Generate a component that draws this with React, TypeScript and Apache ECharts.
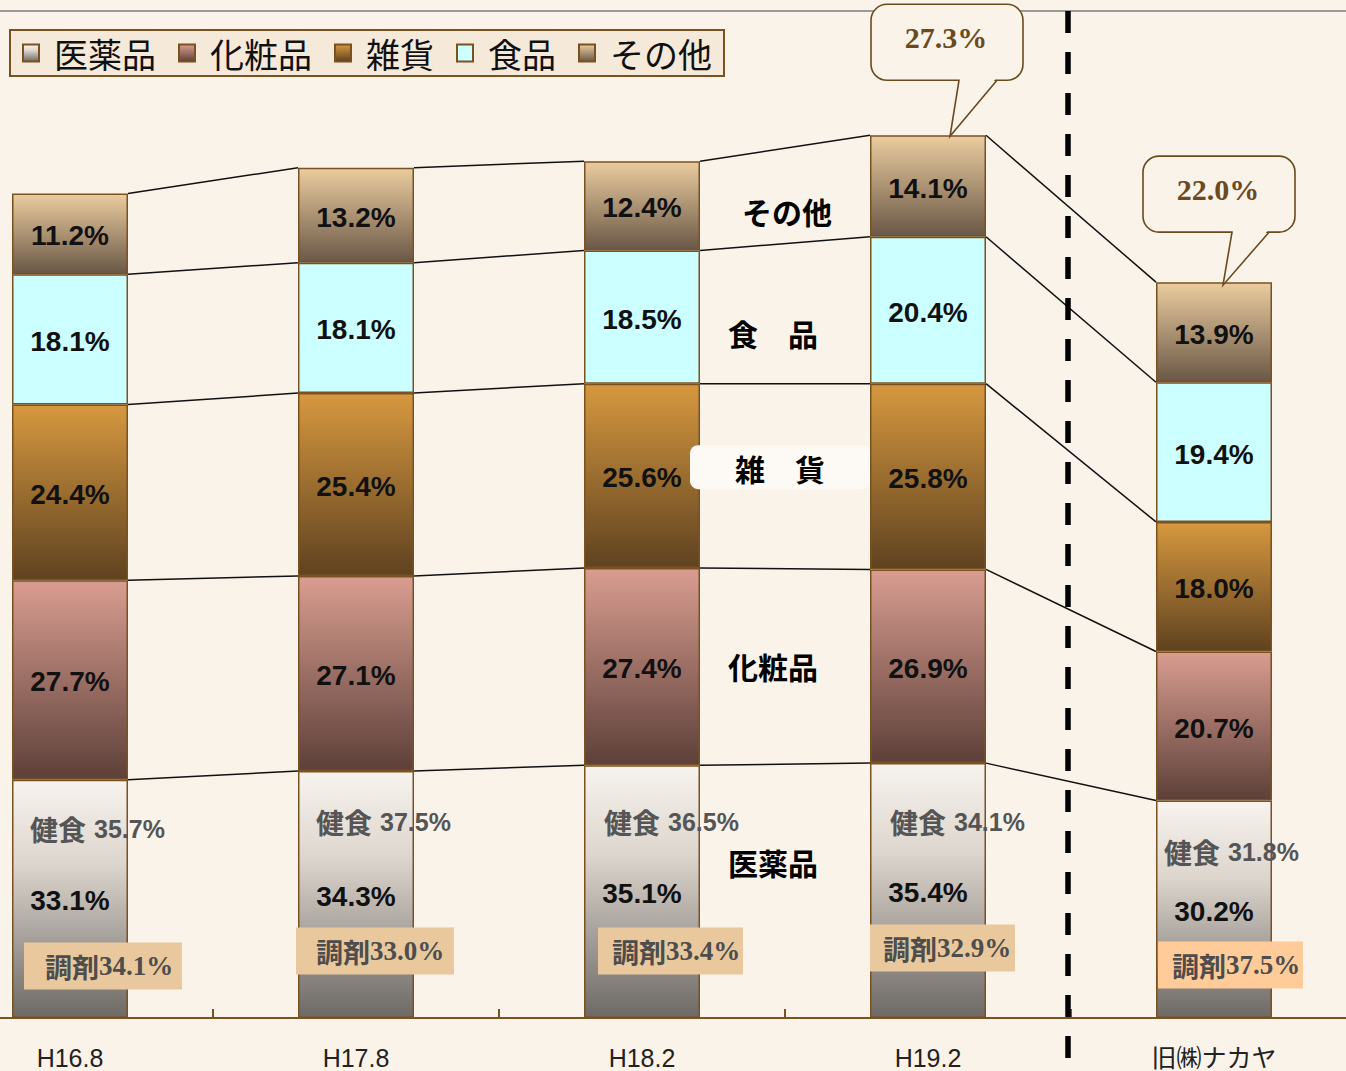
import React, { useEffect, useRef } from 'react';
import * as echarts from 'echarts';

// ---------- data ----------
const categories = ['H16.8', 'H17.8', 'H18.2', 'H19.2', '旧㈱ナカヤ'];
const seriesNames = ['医薬品', '化粧品', '雑貨', '食品', 'その他'];
const iyakuhin = [33.1, 34.3, 35.1, 35.4, 30.2];
const keshohin = [27.7, 27.1, 27.4, 26.9, 20.7];
const zakka = [24.4, 25.4, 25.6, 25.8, 18.0];
const shokuhin = [18.1, 18.1, 18.5, 20.4, 19.4];
const sonota = [11.2, 13.2, 12.4, 14.1, 13.9];
const kenshoku = [35.7, 37.5, 36.5, 34.1, 31.8];
const chozai = [34.1, 33.0, 33.4, 32.9, 37.5];
const callouts: (number | null)[] = [null, null, null, 27.3, 22.0];
const tagTexts = ['医薬品', '化粧品', '雑　貨', '食　品', 'その他'];

const seriesData = [iyakuhin, keshohin, zakka, shokuhin, sonota];

// ---------- styles / layout ----------
const BG = '#f9f3ea';
const BROWN = '#7a5121';
const CALLOUT_BROWN = '#6b4a1e';
const BAR_W = 116;
const CJK = "'Noto Sans CJK JP', sans-serif";
const SANS = "'Liberation Sans', Arial, 'Noto Sans CJK JP', sans-serif";
const SERIF = "'Liberation Serif', 'DejaVu Serif', serif";

// per-category annotation offsets (pixels, relative to bar left edge / baseline)
const ANNOT_LAYOUT = [
  { kenDx: 18, kenDy: -189, boxDx: 12, boxDy: -52, boxW: 158, pad: 21, boxFill: '#e8c89c' },
  { kenDx: 18, kenDy: -196, boxDx: -2, boxDy: -67, boxW: 158, pad: 20, boxFill: '#e8c89c' },
  { kenDx: 20, kenDy: -196, boxDx: 14, boxDy: -67, boxW: 145, pad: 14, boxFill: '#e8c89c' },
  { kenDx: 20, kenDy: -196, boxDx: 0, boxDy: -70, boxW: 145, pad: 13, boxFill: '#e8c89c' },
  { kenDx: 8, kenDy: -166, boxDx: 2, boxDy: -53, boxW: 145, pad: 14, boxFill: '#ffcc99' },
];
const CALLOUT_LAYOUT: Record<number, any> = {
  3: { boxDx: -57, boxDy: -131, tipDx: 22, tipDy: 1, base: [31, 69] },
  4: { boxDx: -71, boxDy: -126, tipDx: 9, tipDy: 3, base: [18, 55] },
};
// series-name tags between 3rd and 4th bar: offsets from averaged segment middles
const TAG_LAYOUT = [
  { dx: -12, dy: -29 },
  { dx: -12, dy: 0 },
  { dx: -5, dy: -8 },
  { dx: -12, dy: 19 },
  { dx: 2, dy: 15 },
];

const grad = (stops: [number, string][]) =>
  new echarts.graphic.LinearGradient(0, 0, 0, 1, stops.map(([offset, color]) => ({ offset, color })));

const fills: any[] = [
  grad([[0, '#f7f3ee'], [0.35, '#ddd6ce'], [1, '#6d6965']]),
  grad([[0, '#d99d90'], [1, '#5d4039']]),
  grad([[0, '#d6983f'], [1, '#5f4220']]),
  '#ccffff',
  grad([[0, '#ebcc9f'], [1, '#6a5846']]),
];

const cumAt = (j: number) => {
  let s = 0;
  return seriesData.map((d) => (s += d[j]));
};

export default function App() {
  const ref = useRef<HTMLDivElement>(null);

  useEffect(() => {
    if (!ref.current) return;
    const chart = echarts.init(ref.current, undefined, { renderer: 'svg' });

    const barSeries = seriesData.map((d, k) => ({
      type: 'bar',
      name: seriesNames[k],
      stack: 'total',
      data: d,
      barWidth: BAR_W,
      z: 2,
      itemStyle: { color: fills[k], borderColor: BROWN, borderWidth: 1.5 },
      label: {
        show: true,
        position: 'inside',
        formatter: (p: any) => Number(p.value).toFixed(1) + '%',
        fontSize: 28,
        fontWeight: 'bold',
        fontFamily: SANS,
        color: '#111',
        offset: [0, 2],
      },
      emphasis: { disabled: true },
    }));

    const annotSeries = {
      type: 'custom',
      name: 'annot',
      z: 5,
      silent: true,
      clip: false,
      data: categories.map((_, i) => [i, 0]),
      encode: { x: 0, y: 1 },
      renderItem: (params: any, api: any) => {
        const i = api.value(0) as number;
        const [cx, by] = api.coord([i, 0]);
        const half = BAR_W / 2;
        const left = cx - half;
        const children: any[] = [];
        const c1 = cumAt(i);

        // connecting lines
        if (i < categories.length - 1) {
          const c2 = cumAt(i + 1);
          const nx = api.coord([i + 1, 0])[0];
          for (let k = 0; k < c1.length; k++) {
            children.push({
              type: 'line',
              shape: {
                x1: cx + half,
                y1: api.coord([i, c1[k]])[1],
                x2: nx - half,
                y2: api.coord([i + 1, c2[k]])[1],
              },
              style: { stroke: '#111', lineWidth: 1.5 },
            });
          }
        }

        // 健食
        const L = ANNOT_LAYOUT[i];
        children.push({
          type: 'text',
          x: left + L.kenDx,
          y: by + L.kenDy,
          style: {
            text: `{a|健食}{b|${kenshoku[i].toFixed(1)}%}`,
            align: 'left',
            verticalAlign: 'middle',
            rich: {
              a: { fontSize: 28, fontWeight: 'bold', fontFamily: CJK, fill: '#555' },
              b: { fontSize: 25, fontWeight: 'bold', fontFamily: SANS, fill: '#555', padding: [0, 0, 0, 8] },
            },
          },
        });

        // 調剤 box
        const bx = left + L.boxDx;
        const byc = by + L.boxDy;
        children.push({
          type: 'rect',
          shape: { x: bx, y: byc - 23.5, width: L.boxW, height: 47 },
          style: { fill: L.boxFill },
        });
        children.push({
          type: 'text',
          x: bx + L.pad,
          y: byc,
          style: {
            text: `{a|調剤}{b|${chozai[i].toFixed(1)}%}`,
            align: 'left',
            verticalAlign: 'middle',
            rich: {
              a: { fontSize: 27, fontWeight: 'bold', fontFamily: CJK, fill: '#4d4d4d' },
              b: { fontSize: 27, fontWeight: 'bold', fontFamily: SERIF, fill: '#4d4d4d' },
            },
          },
        });

        // callouts
        const cv = callouts[i];
        if (cv != null && CALLOUT_LAYOUT[i]) {
          const C = CALLOUT_LAYOUT[i];
          const top = api.coord([i, c1[c1.length - 1]])[1];
          const boxX = cx + C.boxDx;
          const boxY = top + C.boxDy;
          const w = 152;
          const h = 76;
          const bot = boxY + h;
          const tip = [cx + C.tipDx, top + C.tipDy];
          children.push({
            type: 'rect',
            shape: { x: boxX, y: boxY, width: w, height: h, r: 16 },
            style: { fill: BG, stroke: CALLOUT_BROWN, lineWidth: 1.6 },
          });
          children.push({
            type: 'polygon',
            shape: { points: [[cx + C.base[0] + 1, bot - 2], [cx + C.base[1] - 1, bot - 2], tip] },
            style: { fill: BG },
          });
          children.push({
            type: 'polyline',
            shape: { points: [[cx + C.base[0], bot], tip, [cx + C.base[1], bot]] },
            style: { stroke: CALLOUT_BROWN, lineWidth: 1.6, fill: 'none' },
          });
          children.push({
            type: 'text',
            x: boxX + w / 2 - 1,
            y: boxY + 33,
            style: {
              text: cv.toFixed(1) + '%',
              align: 'center',
              verticalAlign: 'middle',
              fontSize: 30,
              fontWeight: 'bold',
              fontFamily: SERIF,
              fill: CALLOUT_BROWN,
            },
          });
        }

        // dashed separator between 4th and 5th bar
        if (i === 3) {
          const nx = api.coord([i + 1, 0])[0];
          const sx = (cx + nx) / 2 - 3;
          const ty = api.coord([i, 140])[1];
          children.push({
            type: 'line',
            shape: { x1: sx, y1: ty + 1, x2: sx, y2: by + 60 },
            style: { stroke: '#000', lineWidth: 5.5, lineDash: [22, 19] },
          });
        }

        // series-name tags between 3rd and 4th bar
        if (i === 2) {
          const nx = api.coord([i + 1, 0])[0];
          const c2 = cumAt(i + 1);
          const mx = (cx + nx) / 2;
          for (let k = 0; k < c1.length; k++) {
            const lo1 = k === 0 ? 0 : c1[k - 1];
            const lo2 = k === 0 ? 0 : c2[k - 1];
            const m1 = api.coord([i, (lo1 + c1[k]) / 2])[1];
            const m2 = api.coord([i + 1, (lo2 + c2[k]) / 2])[1];
            const ty = (m1 + m2) / 2 + TAG_LAYOUT[k].dy;
            const tx = mx + TAG_LAYOUT[k].dx;
            if (k === 2) {
              children.push({
                type: 'rect',
                shape: { x: mx - 95, y: ty - 23, width: 180, height: 44, r: 8 },
                style: { fill: '#fdfaf6' },
              });
            }
            children.push({
              type: 'text',
              x: tx,
              y: ty,
              style: {
                text: tagTexts[k],
                align: 'center',
                verticalAlign: 'middle',
                fontSize: 30,
                fontWeight: 'bold',
                fontFamily: CJK,
                fill: '#000',
              },
            });
          }
        }

        return { type: 'group', children };
      },
    };

    chart.setOption({
      animation: false,
      backgroundColor: BG,
      legend: {
        data: seriesNames,
        left: 10,
        top: 30,
        orient: 'horizontal',
        icon: 'rect',
        padding: [6, 12, 6, 12],
        itemGap: 22,
        itemWidth: 16,
        itemHeight: 17,
        backgroundColor: '#f5e9da',
        borderColor: BROWN,
        borderWidth: 2,
        selectedMode: false,
        itemStyle: { borderColor: BROWN, borderWidth: 2 },
        textStyle: {
          fontSize: 34,
          fontFamily: CJK,
          color: '#111',
          padding: [0, 0, 0, 10],
        },
      },
      grid: {
        left: -73,
        right: -11,
        top: 10,
        bottom: 53,
        containLabel: false,
        outerBoundsMode: 'none',
      },
      xAxis: {
        type: 'category',
        data: categories,
        axisLine: { show: true, lineStyle: { color: BROWN, width: 2 } },
        axisTick: { show: true, inside: true, length: 9, lineStyle: { color: BROWN, width: 2 } },
        axisLabel: { fontSize: 25, color: '#222', margin: 27, fontFamily: SANS, interval: 0 },
      },
      yAxis: {
        type: 'value',
        min: 0,
        max: 140,
        show: false,
        splitLine: { show: false },
      },
      graphic: [
        {
          type: 'line',
          shape: { x1: 0, y1: 11, x2: 1346, y2: 11 },
          style: { stroke: '#9b9b9b', lineWidth: 2 },
          z: 1,
        },
      ],
      series: [...barSeries, annotSeries],
    });

    return () => chart.dispose();
  }, []);

  return (
    <div
      ref={ref}
      style={{ position: 'fixed', left: 0, top: 0, width: 1346, height: 1071, background: BG }}
    />
  );
}
